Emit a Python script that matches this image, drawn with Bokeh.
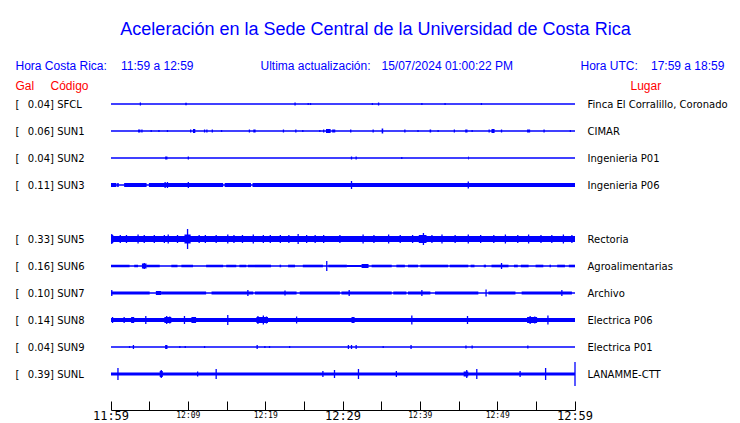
from bokeh.plotting import figure
from bokeh.models import Range1d, Label, FixedTicker, ColumnDataSource, LinearAxis
from bokeh.embed import file_html
from bokeh.resources import INLINE

# ---------------- data ----------------
title_text = "Aceleración en la Sede Central de la Universidad de Costa Rica"
local_caption = "Hora Costa Rica:"
local_window = "11:59 a 12:59"
update_caption = "Ultima actualización:"
update_stamp = "15/07/2024 01:00:22 PM"
utc_caption = "Hora UTC:"
utc_window = "17:59 a 18:59"
col_gal, col_code, col_place = "Gal", "Código", "Lugar"

codes = ["SFCL", "SUN1", "SUN2", "SUN3", "SUN4", "SUN5", "SUN6", "SUN7", "SUN8", "SUN9", "SUNL"]
gal = [0.04, 0.06, 0.04, 0.11, None, 0.33, 0.16, 0.10, 0.14, 0.04, 0.39]
places = ["Finca El Corralillo, Coronado", "CIMAR", "Ingenieria P01", "Ingenieria P06", None,
          "Rectoria", "Agroalimentarias", "Archivo", "Electrica P06", "Electrica P01", "LANAMME-CTT"]

# minutes after 11:59 local time
tick_minutes = [0, 5, 10, 15, 20, 25, 30, 35, 40, 45, 50, 55, 60]
small_tick_minutes = [10, 20, 40, 50]
small_tick_labels = ["12:09", "12:19", "12:39", "12:49"]
big_tick_minutes = [0, 30, 60]
big_tick_labels = ["11:59", "12:29", "12:59"]

# trace amplitude (display counts): continuous background noise level per station
noise = [0, 0, 0, 0, None, 3, 0, 0, 2, 0, 1.5]

# isolated spikes: (minute, half amplitude)
spikes = {
    "SFCL": [(3.8, 1.5), (23.8, 1.5), (25.5, 1), (25.8, 1), (33.8, 1), (34.6, 1.5), (40.2, 1), (43.2, 1), (47.9, 1)],
    "SUN1": [(4.0, 1.5), (5.2, 1), (6.2, 1), (7.3, 1), (10.3, 1.5), (12.1, 1.5), (12.4, 1.5), (13.1, 1.5),
             (14.3, 1), (17.9, 1.5), (22.3, 1.5), (23.9, 1.5), (24.8, 1), (27.0, 1), (27.5, 1.5), (31.0, 1.5),
             (33.9, 1.5), (38.0, 1.5), (39.7, 1), (42.3, 1), (44.4, 1.5), (46.7, 1), (48.9, 1.5), (50.5, 1.5),
             (56.0, 1.5), (59.4, 1)],
    "SUN2": [(10.0, 1.5), (31.1, 1.5), (31.7, 1.5), (37.6, 1)],
    "SUN3": [(7.0, 3), (7.3, 3), (10.0, 3), (31.1, 4), (46.2, 3.5)],
    "SUN4": [],
    "SUN5": [(0.1, 5), (1.2, 4), (2.0, 4), (3.5, 4.5), (4.3, 4), (5.6, 4), (6.9, 4), (7.4, 4.5), (8.6, 4),
             (9.9, 10), (11.4, 4), (12.2, 4), (13.6, 4), (15.1, 4.5), (15.9, 4), (17.0, 4), (18.4, 4.5),
             (19.7, 4), (20.6, 4), (21.9, 4), (23.0, 4), (24.2, 5), (25.3, 4), (26.4, 4), (27.5, 4),
             (29.6, 4), (32.6, 4.5), (34.0, 4), (35.9, 4.5), (37.4, 4), (39.0, 4), (40.4, 6), (41.5, 4),
             (42.8, 4.5), (44.5, 4), (46.2, 4.5), (47.8, 4), (49.5, 4), (51.0, 4.5), (52.6, 4), (54.0, 4.5),
             (55.6, 4), (57.0, 4), (58.5, 4.5), (59.6, 4)],
    "SUN6": [(4.3, 3), (27.9, 5), (50.5, 3)],
    "SUN7": [(0.1, 3), (17.7, 3), (22.5, 2.5), (30.8, 3), (40.2, 3), (48.5, 3.5), (58.3, 3)],
    "SUN8": [(0.2, 3), (1.7, 3), (4.5, 4), (7.2, 4), (7.6, 3.5), (9.5, 4), (15.1, 5), (19.0, 4), (19.7, 4.5),
             (20.1, 3.5), (24.0, 3.5), (38.9, 4.5), (46.1, 4), (54.2, 4), (54.8, 3.5), (56.5, 4.5)],
    "SUN9": [(2.4, 1), (2.9, 2), (8.9, 1), (9.6, 1), (12.1, 1), (18.9, 2), (19.9, 1), (20.5, 1), (23.1, 1),
             (30.7, 2), (31.1, 2), (31.7, 2), (35.2, 1), (38.8, 2), (45.9, 1.5), (46.7, 1.5), (53.9, 1.5)],
    "SUNL": [(0.9, 6), (6.5, 4), (11.2, 2.5), (13.6, 5), (27.4, 3), (28.9, 4), (32.0, 5), (36.9, 3), (46.0, 4),
             (47.3, 5), (52.9, 3), (56.2, 6), (60.0, 12)],
}

# bursts of activity: (start minute, end minute, half amplitude)
bursts = {
    "SFCL": [(9.6, 9.8, 1.2)],
    "SUN1": [(3.5, 3.8, 1.5), (10.6, 10.9, 2), (18.4, 18.7, 1.5), (27.8, 28.4, 2), (28.6, 29.0, 1.5),
             (35.0, 35.2, 2.5), (41.2, 41.4, 1.5), (45.8, 46.1, 1.5), (49.2, 49.6, 2), (53.8, 54.2, 1.5)],
    "SUN2": [(7.0, 7.3, 1.5), (46.2, 46.3, 1.5)],
    "SUN3": [(0.0, 0.7, 2), (0.8, 1.0, 2), (1.7, 4.6, 2), (4.9, 14.5, 2), (14.7, 18.1, 2), (18.3, 60.0, 2)],
    "SUN4": [],
    "SUN5": [(0.0, 0.3, 4), (9.5, 10.3, 4.5), (39.8, 40.8, 4)],
    "SUN6": [(0.0, 2.4, 1.3), (3.0, 3.5, 1.3), (4.0, 4.6, 2.5), (4.6, 6.3, 1.3), (7.8, 8.6, 1.3), (9.1, 10.6, 1.3),
             (12.3, 14.5, 1.3), (14.9, 16.2, 1.3), (16.6, 17.5, 1.3), (17.7, 20.7, 1.3), (21.8, 22.0, 1.3),
             (22.9, 23.8, 1.3), (24.8, 27.4, 1.3), (28.1, 30.5, 1.3), (30.5, 32.4, 1), (32.4, 33.3, 2),
             (33.7, 36.3, 1.3), (36.9, 38.0, 1.3), (38.4, 39.7, 1.3), (40.0, 43.6, 1.3), (43.8, 46.2, 1.3),
             (46.5, 47.0, 1.3), (48.2, 48.5, 1.3), (49.2, 51.4, 1.3), (52.1, 52.6, 1.3), (53.0, 54.0, 1.3),
             (54.9, 55.9, 1.3), (56.7, 56.9, 1.3), (57.7, 58.7, 1.3), (59.2, 60.0, 1.3)],
    "SUN7": [(0.0, 5.0, 1.5), (5.8, 6.5, 2), (6.5, 12.3, 1.5), (13.0, 18.4, 1.5), (18.6, 24.0, 1.5),
             (24.4, 29.6, 1.5), (29.8, 36.3, 1.5), (36.5, 38.2, 1.5), (38.4, 41.3, 1.5), (41.9, 47.5, 1.5),
             (48.8, 52.3, 1.5), (53.1, 59.6, 1.5)],
    "SUN8": [(2.6, 3.0, 3), (6.9, 7.8, 3), (10.4, 11.0, 3), (18.8, 20.3, 3), (31.1, 31.5, 3),
             (53.8, 55.1, 3)],
    "SUN9": [(7.0, 7.3, 2)],
    "SUNL": [(6.3, 6.7, 3), (45.6, 46.2, 2.5)],
}

# ---------------- layout / style constants ----------------
W, H = 740, 423
T0_PX, T1_PX = 110.5, 574.5           # canvas px of the first and last minute
SPAN_MIN = 60
PX_PER_MIN = (T1_PX - T0_PX) / SPAN_MIN
ROW0_PX, ROW_STEP = 103.5, 27.0
AXIS_PX = 409.5
AMP_TO_ROW = 1.0 / ROW_STEP           # one display count = one pixel
BLUE, RED, BLACK = "#0000ff", "#ff0000", "#000000"


def dx(px):
    return (px - T0_PX) / PX_PER_MIN


def dy(py):
    return (py - ROW0_PX) / ROW_STEP


p = figure(width=W, height=H, output_backend="svg", toolbar_location=None,
           x_range=Range1d(dx(0), dx(W)), y_range=Range1d(dy(H), dy(0)),
           y_axis_location=None, min_border=0)
p.outline_line_color = None
p.xgrid.visible = False
p.ygrid.visible = False
p.background_fill_color = "white"
p.border_fill_color = "white"

# ---------------- traces ----------------
seg = dict(x0=[], x1=[], y0=[], y1=[])
quad = dict(left=[], right=[], top=[], bottom=[])
for slot, code in enumerate(codes):
    if gal[slot] is None:
        continue
    seg["x0"].append(0)
    seg["x1"].append(SPAN_MIN)
    seg["y0"].append(slot)
    seg["y1"].append(slot)
    if noise[slot]:
        a = noise[slot] * AMP_TO_ROW
        quad["left"].append(0)
        quad["right"].append(SPAN_MIN)
        quad["top"].append(slot - a)
        quad["bottom"].append(slot + a)
    for t0, t1, amp in bursts[code]:
        a = amp * AMP_TO_ROW
        quad["left"].append(t0)
        quad["right"].append(t1)
        quad["top"].append(slot - a)
        quad["bottom"].append(slot + a)
    for t, amp in spikes[code]:
        a = amp * AMP_TO_ROW
        seg["x0"].append(t)
        seg["x1"].append(t)
        seg["y0"].append(slot - a)
        seg["y1"].append(slot + a)

p.quad(source=ColumnDataSource(quad), left="left", right="right", top="top", bottom="bottom",
       fill_color=BLUE, line_color=None)
p.segment(source=ColumnDataSource(seg), x0="x0", x1="x1", y0="y0", y1="y1",
          line_color=BLUE, line_width=1.3)

# ---------------- time axis (drawn at a fixed location inside the canvas) ----------------
# ticks + axis line, no labels
ax = p.xaxis[0]
ax.fixed_location = dy(AXIS_PX)
ax.bounds = (0, SPAN_MIN)
ax.ticker = FixedTicker(ticks=tick_minutes, minor_ticks=[])
ax.major_label_text_font_size = "0px"
ax.major_label_text_color = None
ax.major_tick_in = 9
ax.major_tick_out = 0
ax.minor_tick_line_color = None
ax.axis_line_color = BLACK
ax.major_tick_line_color = BLACK


def label_axis(minutes, labels, size, standoff):
    a = LinearAxis(fixed_location=dy(AXIS_PX), bounds=(0, SPAN_MIN),
                   ticker=FixedTicker(ticks=minutes, minor_ticks=[]),
                   major_label_overrides={m: lab for m, lab in zip(minutes, labels)},
                   axis_line_color=None, major_tick_line_color=None, minor_tick_line_color=None,
                   major_tick_in=0, major_tick_out=0,
                   major_label_text_font="DejaVu Sans Mono", major_label_text_font_size=size,
                   major_label_text_color=BLACK, major_label_standoff=standoff)
    p.add_layout(a, "below")


label_axis(small_tick_minutes, small_tick_labels, "8px", 1)
label_axis(big_tick_minutes, big_tick_labels, "12px", -1)

# ---------------- texts ----------------
def put(text, px, py, color, size, font="Liberation Sans", align="left", baseline="alphabetic"):
    p.add_layout(Label(x=dx(px), y=dy(py), text=text, text_align=align, text_baseline=baseline,
                       text_font=font, text_font_size=size, text_color=color))


put(title_text, 375, 28.5, BLUE, "18px", align="center")
put(local_caption, 15, 65, BLUE, "12px")
put(local_window, 120.5, 65, BLUE, "12px")
put(update_caption, 260, 65, BLUE, "12px")
put(update_stamp, 381, 65, BLUE, "12px")
put(utc_caption, 580, 65, BLUE, "12px")
put(utc_window, 650.5, 65, BLUE, "12px")
put(col_gal, 15, 85, RED, "12px")
put(col_code, 50, 85, RED, "12px")
put(col_place, 630, 85, RED, "12px")

for slot, code in enumerate(codes):
    if gal[slot] is None:
        continue
    row_px = ROW0_PX + slot * ROW_STEP
    put("[", 15, row_px, BLACK, "10px", font="DejaVu Sans", baseline="middle")
    put(f"{gal[slot]:.2f}] {code}", 27.3, row_px, BLACK, "10px", font="DejaVu Sans", baseline="middle")
    put(places[slot], 587, row_px, BLACK, "10px", font="DejaVu Sans", baseline="middle")

open("out.html", "w").write(file_html(p, INLINE))
